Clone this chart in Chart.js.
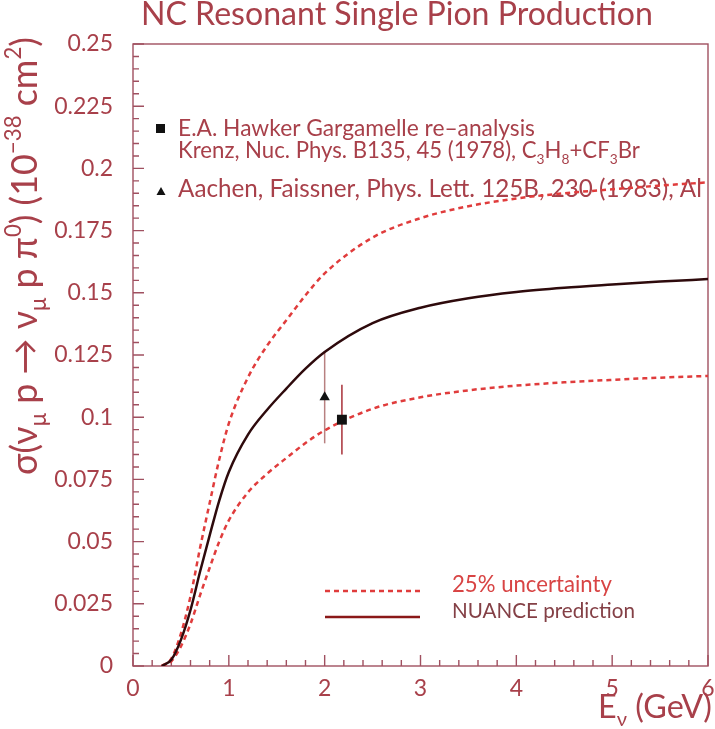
<!DOCTYPE html>
<html>
<head>
<meta charset="utf-8">
<title>NC Resonant Single Pion Production</title>
<script src="https://cdn.jsdelivr.net/npm/chart.js@4/dist/chart.umd.min.js"></script>
<style>
  html, body { margin: 0; padding: 0; background: #fff; }
  #wrap { width: 715px; height: 729px; position: relative; }
</style>
</head>
<body>
<div id="wrap"><canvas id="xsec"></canvas></div>
<script>
// neutrino energy (GeV) and cross section (10^-38 cm^2)
const energy  = [0.3, 0.4, 0.5, 0.6, 0.7, 0.8, 0.9, 1.0, 1.2, 1.4, 1.6, 1.8, 2.0, 2.5, 3.0, 3.5, 4.0, 4.5, 5.0, 5.5, 6.0];
const nuance  = [0, 0.0025, 0.0105, 0.0225, 0.038, 0.0525, 0.0665, 0.078, 0.093, 0.103, 0.1115, 0.1195, 0.1262, 0.1378, 0.144, 0.1478, 0.1503, 0.152, 0.1533, 0.1545, 0.1555];
const upper25 = [0, 0.003, 0.013, 0.028, 0.0475, 0.0655, 0.083, 0.0975, 0.116, 0.1288, 0.139, 0.149, 0.1578, 0.1722, 0.18, 0.1848, 0.1879, 0.19, 0.1916, 0.1931, 0.1944];
const lower25 = [0, 0.0019, 0.0079, 0.0169, 0.0285, 0.0395, 0.05, 0.0585, 0.0698, 0.0773, 0.0836, 0.0896, 0.0947, 0.1034, 0.108, 0.1108, 0.1127, 0.114, 0.115, 0.1159, 0.1166];

// measurements
const hawkerE = [2.18];
const hawkerSigma = [0.099];
const hawkerErr = [0.014];
const aachenE = [2.0];
const aachenSigma = [0.108];
const aachenErr = [0.0185];

const xTickLabels = ['0', '1', '2', '3', '4', '5', '6'];
const yTickLabels = ['0', '0.025', '0.05', '0.075', '0.1', '0.125', '0.15', '0.175', '0.2', '0.225', '0.25'];

const FONT = 'Lato';
const ink = '#a8404a';
const frameCol = '#a05060';

const pts = (xs, ys) => xs.map((x, i) => ({ x: x, y: ys[i] }));
const labelFor = (list, v) => list.find(t => Math.abs(Number(t) - v) < 1e-9) ?? '';

// text with sub/superscripts: segs = [[text, ''|'sub'|'sup'], ...]
function segFont(kind, size) {
  return `${kind ? size * 0.62 : size}px ${FONT}`;
}
function richWidth(ctx, segs, size) {
  let w = 0;
  for (const [t, k] of segs) { ctx.font = segFont(k, size); w += ctx.measureText(t).width; }
  return w;
}
function drawRich(ctx, segs, x, y, size, align) {
  const w = richWidth(ctx, segs, size);
  let cx = align === 'right' ? x - w : align === 'center' ? x - w / 2 : x;
  ctx.textAlign = 'left';
  ctx.textBaseline = 'alphabetic';
  for (const [t, k] of segs) {
    ctx.font = segFont(k, size);
    const dy = k === 'sub' ? size * 0.25 : k === 'sup' ? -size * 0.45 : 0;
    ctx.fillText(t, cx, y + dy);
    cx += ctx.measureText(t).width;
  }
}
// pick a font size so the line spans the given width
function fitSize(ctx, segs, width) {
  return 100 * width / richWidth(ctx, segs, 100);
}

const frame = {
  id: 'frame',
  beforeDatasetsDraw(chart) {
    const { ctx, chartArea: a, scales: { x, y } } = chart;
    ctx.save();
    ctx.strokeStyle = frameCol;
    ctx.lineWidth = 1.4;
    ctx.strokeRect(a.left, a.top, a.right - a.left, a.bottom - a.top);
    ctx.beginPath();
    for (let i = 0; i <= 50; i++) {
      const py = y.getPixelForValue(i * 0.005);
      const len = i % 5 === 0 ? 11 : 6;
      ctx.moveTo(a.left, py); ctx.lineTo(a.left + len, py);
    }
    for (let i = 0; i <= 30; i++) {
      const px = x.getPixelForValue(i * 0.2);
      const len = i % 5 === 0 ? 11 : 6;
      ctx.moveTo(px, a.bottom); ctx.lineTo(px, a.bottom - len);
    }
    ctx.stroke();

    // error bars under the markers
    chart.data.datasets.forEach(ds => {
      if (!ds.errors) return;
      ctx.strokeStyle = ds.errorColor;
      ctx.lineWidth = 1.5;
      ds.data.forEach((p, i) => {
        const px = x.getPixelForValue(p.x);
        ctx.beginPath();
        ctx.moveTo(px, y.getPixelForValue(p.y + ds.errors[i]));
        ctx.lineTo(px, y.getPixelForValue(p.y - ds.errors[i]));
        ctx.stroke();
      });
    });

    // data legend, top left
    ctx.fillStyle = '#111';
    ctx.fillRect(156, 124, 9, 9);
    ctx.beginPath();
    ctx.moveTo(161, 187); ctx.lineTo(165.5, 195); ctx.lineTo(156.5, 195); ctx.closePath();
    ctx.fill();

    ctx.fillStyle = ink;
    const l1 = [['E.A. Hawker Gargamelle re–analysis', '']];
    drawRich(ctx, l1, 178, 136, fitSize(ctx, l1, 357), 'left');
    const l2 = [['Krenz, Nuc. Phys. B135, 45 (1978), C', ''], ['3', 'sub'], ['H', ''], ['8', 'sub'], ['+CF', ''], ['3', 'sub'], ['Br', '']];
    drawRich(ctx, l2, 178, 158, fitSize(ctx, l2, 462), 'left');
    const l3 = [['Aachen, Faissner, Phys. Lett. 125B, 230 (1983), Al', '']];
    drawRich(ctx, l3, 178, 197, fitSize(ctx, l3, 524), 'left');

    // curve legend, bottom
    ctx.lineWidth = 2.5;
    ctx.strokeStyle = '#e03c3c';
    ctx.setLineDash([5, 4]);
    ctx.beginPath(); ctx.moveTo(325, 591); ctx.lineTo(420, 591); ctx.stroke();
    ctx.setLineDash([]);
    ctx.strokeStyle = '#8a1818';
    ctx.beginPath(); ctx.moveTo(325, 617); ctx.lineTo(420, 617); ctx.stroke();
    ctx.fillStyle = '#d84444';
    const u = [['25% uncertainty', '']];
    drawRich(ctx, u, 452, 592, fitSize(ctx, u, 160), 'left');
    ctx.fillStyle = '#844046';
    const n = [['NUANCE prediction', '']];
    drawRich(ctx, n, 452, 618, fitSize(ctx, n, 183), 'left');
    ctx.restore();
  },
  afterDraw(chart) {
    const { ctx } = chart;
    ctx.save();
    ctx.fillStyle = ink;
    const title = [['NC Resonant Single Pion Production', '']];
    drawRich(ctx, title, 141, 25, fitSize(ctx, title, 512), 'left');

    const xt = [['E', ''], ['ν', 'sub'], [' (GeV)', '']];
    drawRich(ctx, xt, 712, 718, fitSize(ctx, xt, 114), 'right');

    const yt = [['σ(ν', ''], ['μ', 'sub'], [' p → ν', ''], ['μ', 'sub'], [' p π', ''], ['0', 'sup'],
                [') (10', ''], ['−38', 'sup'], [' cm', ''], ['2', 'sup'], [')', '']];
    ctx.translate(37, 256);
    ctx.rotate(-Math.PI / 2);
    drawRich(ctx, yt, 0, 0, fitSize(ctx, yt, 438), 'center');
    ctx.restore();
  }
};

const curve = (label, ys, color, dash) => ({
  label: label,
  data: pts(energy, ys),
  borderColor: color,
  borderWidth: 2.5,
  borderDash: dash,
  pointRadius: 0,
  cubicInterpolationMode: 'monotone'
});

new Chart(document.getElementById('xsec'), {
  type: 'line',
  data: {
    datasets: [
      {
        label: 'E.A. Hawker Gargamelle re-analysis',
        data: pts(hawkerE, hawkerSigma),
        errors: hawkerErr,
        errorColor: '#a83038',
        showLine: false,
        pointStyle: 'rect',
        pointRadius: 7,
        backgroundColor: '#111',
        borderColor: '#111',
        borderWidth: 0
      },
      {
        label: 'Aachen, Faissner',
        data: pts(aachenE, aachenSigma),
        errors: aachenErr,
        errorColor: '#b88080',
        showLine: false,
        pointStyle: 'triangle',
        pointRadius: 6,
        backgroundColor: '#111',
        borderColor: '#111',
        borderWidth: 0
      },
      curve('NUANCE prediction', nuance, '#2e0a0c', []),
      curve('25% uncertainty (high)', upper25, '#e03c3c', [5, 4]),
      curve('25% uncertainty (low)', lower25, '#e03c3c', [5, 4])
    ]
  },
  options: {
    responsive: true,
    maintainAspectRatio: false,
    animation: false,
    layout: { padding: { top: 44, right: 5, bottom: 0, left: 0 } },
    plugins: { legend: { display: false }, tooltip: { enabled: false } },
    scales: {
      x: {
        type: 'linear',
        min: 0,
        max: 6,
        border: { display: false },
        grid: { display: false, drawTicks: false, tickLength: 0 },
        ticks: {
          stepSize: 1,
          padding: 9,
          color: ink,
          font: { family: FONT, size: 23 },
          maxRotation: 0,
          callback: v => labelFor(xTickLabels, v)
        },
        afterFit: s => { s.height = 63; s.paddingLeft = 0; s.paddingRight = 0; }
      },
      y: {
        min: 0,
        max: 0.25,
        border: { display: false },
        grid: { display: false, drawTicks: false, tickLength: 0 },
        ticks: {
          stepSize: 0.025,
          padding: 20,
          color: ink,
          font: { family: FONT, size: 23 },
          callback: v => labelFor(yTickLabels, v)
        },
        afterFit: s => { s.width = 133; s.paddingTop = 0; s.paddingBottom = 0; }
      }
    }
  },
  plugins: [frame]
});
</script>
</body>
</html>
